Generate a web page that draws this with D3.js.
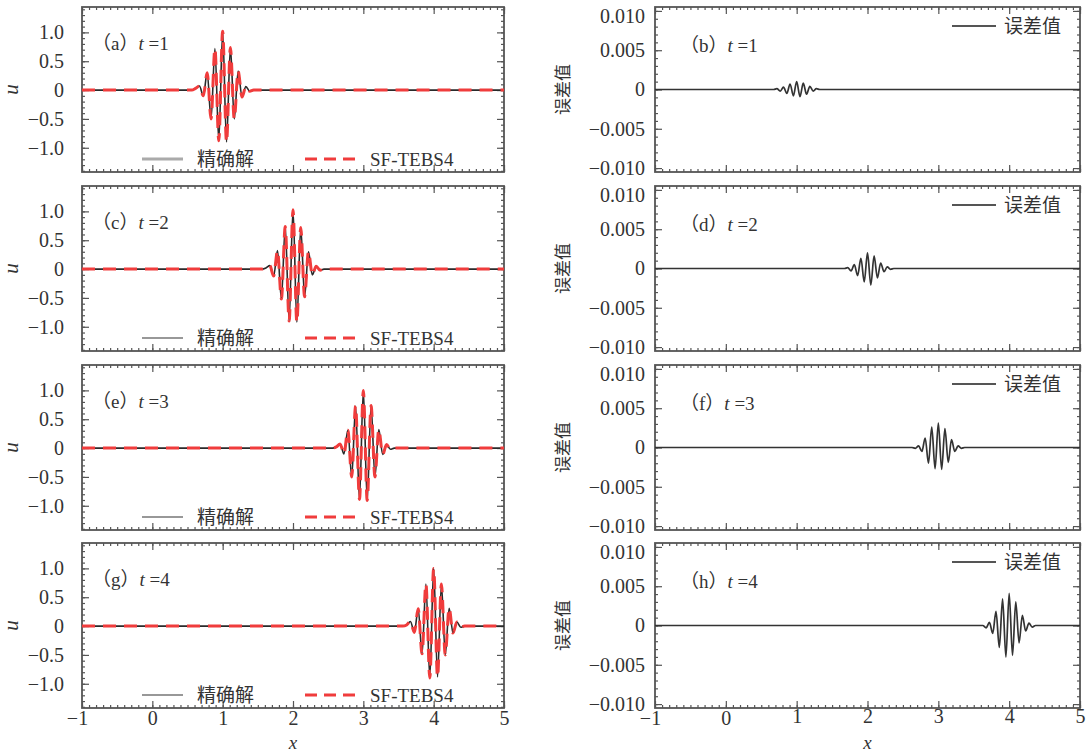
<!DOCTYPE html>
<html>
<head>
<meta charset="utf-8">
<script src="https://cdn.jsdelivr.net/npm/d3@7"></script>
<style>
  body { margin: 0; background: #fff; }
  text { fill: #333; }
</style>
</head>
<body>
<svg id="chart" width="1087" height="753"></svg>
<script>
// ---- data ----
const X_TICKS = [-1, 0, 1, 2, 3, 4, 5];
const U_TICKS = [-1, -0.5, 0, 0.5, 1];
const U_TICK_LABELS = ["−1.0", "−0.5", "0", "0.5", "1.0"];
const ERR_TICKS = [-0.01, -0.005, 0, 0.005, 0.01];
const ERR_TICK_LABELS = ["−0.010", "−0.005", "0", "0.005", "0.010"];
const TIMES = [1, 2, 3, 4];
const LEFT_TAGS = ["a", "c", "e", "g"];
const RIGHT_TAGS = ["b", "d", "f", "h"];

// wave packet extrema (x, u) for the exact solution, one list per t
const packetX1 = [-1, 0.56, 0.615, 0.67, 0.725, 0.78, 0.835, 0.89, 0.945, 1.0, 1.055, 1.11, 1.165, 1.22, 1.275, 1.33, 1.385, 1.44, 5];
const packetU1 = [0, 0, 0.03, 0.07, -0.1, 0.3, -0.5, 0.72, -0.88, 1.02, -0.9, 0.74, -0.5, 0.33, -0.12, 0.06, -0.02, 0, 0];
const packetX2 = [-1, 1.56, 1.615, 1.67, 1.725, 1.78, 1.835, 1.89, 1.945, 2.0, 2.055, 2.11, 2.165, 2.22, 2.275, 2.33, 2.385, 2.44, 5];
const packetU2 = [0, 0, 0.02, 0.06, -0.12, 0.32, -0.52, 0.74, -0.9, 1.03, -0.92, 0.72, -0.48, 0.3, -0.1, 0.05, -0.02, 0, 0];
const packetX3 = [-1, 2.56, 2.615, 2.67, 2.725, 2.78, 2.835, 2.89, 2.945, 3.0, 3.055, 3.11, 3.165, 3.22, 3.275, 3.33, 3.385, 3.44, 5];
const packetU3 = [0, 0, 0.02, 0.07, -0.1, 0.31, -0.5, 0.73, -0.89, 1.0, -0.91, 0.74, -0.5, 0.32, -0.11, 0.06, -0.02, 0, 0];
const packetX4 = [-1, 3.56, 3.615, 3.67, 3.725, 3.78, 3.835, 3.89, 3.945, 4.0, 4.055, 4.11, 4.165, 4.22, 4.275, 4.33, 4.385, 4.44, 5];
const packetU4 = [0, 0, 0.02, 0.08, -0.11, 0.3, -0.48, 0.73, -0.9, 1.0, -0.88, 0.73, -0.5, 0.31, -0.12, 0.07, -0.02, 0, 0];

// error (exact - SF-TEBS4) extrema, one list per t
const errX1 = [-1, 0.628, 0.675, 0.721, 0.768, 0.814, 0.861, 0.907, 0.954, 1.0, 1.047, 1.093, 1.14, 1.186, 1.233, 1.279, 1.326, 1.372, 5];
const errV1 = [0, 0, 0, 0.0001, -0.0002, 0.0003, -0.0005, 0.0007, -0.0008, 0.001, -0.0009, 0.0008, -0.0006, 0.0004, -0.0002, 0.0001, 0, 0, 0];
const errX2 = [-1, 1.628, 1.675, 1.721, 1.768, 1.814, 1.861, 1.907, 1.954, 2.0, 2.047, 2.093, 2.14, 2.186, 2.233, 2.279, 2.326, 2.372, 5];
const errV2 = [0, 0, 0, 0.0001, -0.0003, 0.0005, -0.0009, 0.0013, -0.0017, 0.002, -0.0021, 0.0016, -0.0012, 0.0007, -0.0004, 0.0002, -0.0001, 0, 0];
const errX3 = [-1, 2.628, 2.675, 2.721, 2.768, 2.814, 2.861, 2.907, 2.954, 3.0, 3.047, 3.093, 3.14, 3.186, 3.233, 3.279, 3.326, 3.372, 5];
const errV3 = [0, 0, -0.0001, 0.0002, -0.0005, 0.0012, -0.002, 0.0026, -0.0027, 0.0031, -0.0028, 0.0024, -0.0019, 0.001, -0.0005, 0.0002, -0.0001, 0, 0];
const errX4 = [-1, 3.628, 3.675, 3.721, 3.768, 3.814, 3.861, 3.907, 3.954, 4.0, 4.047, 4.093, 4.14, 4.186, 4.233, 4.279, 4.326, 4.372, 5];
const errV4 = [0, 0, -0.0003, 0.0004, -0.001, 0.0018, -0.0028, 0.0034, -0.004, 0.0041, -0.0038, 0.003, -0.0022, 0.0013, -0.0007, 0.0003, -0.0002, 0, 0];

const PACKETS = [[packetX1, packetU1], [packetX2, packetU2], [packetX3, packetU3], [packetX4, packetU4]];
const ERRORS = [[errX1, errV1], [errX2, errV2], [errX3, errV3], [errX4, errV4]];

// ---- layout ----
const ROW_TOPS = [7, 186, 365, 543];
const ROW_H = 165;
const LEFT = [82, 504];
const RIGHT = [655, 1080];
const SERIF = "'Liberation Serif', 'Times New Roman', serif";
const CJK = "'Noto Sans CJK SC', sans-serif";
const RED = "#f03c3c";

const svg = d3.select("#chart");

const zip = (xs, ys) => xs.map((x, i) => [x, ys[i]]);

function range(a, b, step) {
  const out = [];
  for (let v = a; v <= b + 1e-9; v += step) out.push(+v.toFixed(6));
  return out;
}

function styleAxis(g) {
  g.select(".domain").remove();
  g.selectAll(".tick line").attr("stroke", "#555").attr("stroke-width", 1.2);
  g.selectAll("text").attr("font-family", SERIF).attr("font-size", 20).attr("fill", "#333");
}

function drawFrame(g, x, y, yMajor, yMinor, yFmt, yPad, showX) {
  const [x0, x1] = x.range();
  const [yb, yt] = y.range();

  // minor ticks, all four sides
  g.append("g").attr("transform", `translate(${x0},0)`)
    .call(d3.axisLeft(y).tickValues(yMinor).tickSize(-3).tickFormat(""))
    .call(styleAxis);
  g.append("g").attr("transform", `translate(${x1},0)`)
    .call(d3.axisRight(y).tickValues(yMinor).tickSize(-3).tickFormat(""))
    .call(styleAxis);
  const xMinor = range(-1, 5, 0.1);
  g.append("g").attr("transform", `translate(0,${yt})`)
    .call(d3.axisTop(x).tickValues(xMinor).tickSize(-3).tickFormat(""))
    .call(styleAxis);
  g.append("g").attr("transform", `translate(0,${yb})`)
    .call(d3.axisBottom(x).tickValues(xMinor).tickSize(-3).tickFormat(""))
    .call(styleAxis);

  // major ticks
  g.append("g").attr("transform", `translate(${x0},0)`)
    .call(d3.axisLeft(y).tickValues(yMajor).tickSize(-7).tickPadding(yPad).tickFormat(yFmt))
    .call(styleAxis);
  g.append("g").attr("transform", `translate(${x1},0)`)
    .call(d3.axisRight(y).tickValues(yMajor).tickSize(-7).tickFormat(""))
    .call(styleAxis);
  g.append("g").attr("transform", `translate(0,${yt})`)
    .call(d3.axisTop(x).tickValues(X_TICKS).tickSize(-7).tickFormat(""))
    .call(styleAxis);
  const bottom = g.append("g").attr("transform", `translate(0,${yb})`)
    .call(d3.axisBottom(x).tickValues(X_TICKS).tickSize(-7).tickPadding(3)
      .tickFormat(showX ? (d) => (d < 0 ? "−" + Math.abs(d) : String(d)) : ""))
    .call(styleAxis);
  bottom.selectAll("text").attr("dx", (d) => (d < 0 ? -5 : 0));

  g.append("rect")
    .attr("x", x0).attr("y", yt)
    .attr("width", x1 - x0).attr("height", yb - yt)
    .attr("fill", "none").attr("stroke", "#555").attr("stroke-width", 1.8);
}

function panelTag(g, xPos, yPos, tag, t) {
  const txt = g.append("text").attr("x", xPos).attr("y", yPos)
    .attr("font-family", SERIF).attr("font-size", 19);
  txt.append("tspan").attr("font-family", CJK).text("（");
  txt.append("tspan").text(tag);
  txt.append("tspan").attr("font-family", CJK).text("）");
  txt.append("tspan").attr("font-style", "italic").text("t");
  txt.append("tspan").text(" =" + t);
}

TIMES.forEach((t, i) => {
  const top = ROW_TOPS[i];
  const last = i === TIMES.length - 1;

  // ---------- left: u(x) ----------
  const xl = d3.scaleLinear().domain([-1, 5]).range(LEFT);
  const yl = d3.scaleLinear().domain([-1.42, 1.44]).range([top + ROW_H, top]);
  const gl = svg.append("g");

  const clipL = `clipL${i}`;
  svg.append("clipPath").attr("id", clipL).append("rect")
    .attr("x", LEFT[0]).attr("y", top).attr("width", LEFT[1] - LEFT[0]).attr("height", ROW_H);

  drawFrame(gl, xl, yl, U_TICKS, range(-1.4, 1.4, 0.1),
    (d) => U_TICK_LABELS[U_TICKS.indexOf(d)], 18, last);

  const pts = zip(PACKETS[i][0], PACKETS[i][1]);
  const lineL = d3.line().x((d) => xl(d[0])).y((d) => yl(d[1])).curve(d3.curveMonotoneX);

  const plotL = gl.append("g").attr("clip-path", `url(#${clipL})`);
  plotL.append("path").datum(pts).attr("d", lineL)
    .attr("fill", "none").attr("stroke", "#2a2a2a").attr("stroke-width", 1.6);
  // SF-TEBS4 numerical solution coincides with the exact one at this scale
  plotL.append("path").datum(pts).attr("d", lineL)
    .attr("fill", "none").attr("stroke", RED).attr("stroke-width", 3)
    .attr("stroke-dasharray", "13,8");

  panelTag(gl, 92, top + 43, LEFT_TAGS[i], t);

  // legend
  const ly = top + ROW_H - 13;
  gl.append("line").attr("x1", 142).attr("x2", 183).attr("y1", ly).attr("y2", ly)
    .attr("stroke", i === 0 ? "#aaa" : "#333").attr("stroke-width", i === 0 ? 3 : 1.2);
  gl.append("text").attr("x", 197).attr("y", ly + 7)
    .attr("font-family", CJK).attr("font-size", 19).text("精确解");
  gl.append("line").attr("x1", 305).attr("x2", 357).attr("y1", ly).attr("y2", ly)
    .attr("stroke", RED).attr("stroke-width", 3).attr("stroke-dasharray", "12,7");
  gl.append("text").attr("x", 370).attr("y", ly + 7)
    .attr("font-family", SERIF).attr("font-size", 19).text("SF-TEBS4");

  gl.append("text")
    .attr("transform", `translate(18,${top + ROW_H / 2}) rotate(-90)`)
    .attr("text-anchor", "middle")
    .attr("font-family", SERIF).attr("font-style", "italic").attr("font-size", 21)
    .text("u");

  // ---------- right: error ----------
  const xr = d3.scaleLinear().domain([-1, 5]).range(RIGHT);
  const yr = d3.scaleLinear().domain([-0.0105, 0.0105]).range([top + ROW_H, top]);
  const gr = svg.append("g");

  const clipR = `clipR${i}`;
  svg.append("clipPath").attr("id", clipR).append("rect")
    .attr("x", RIGHT[0]).attr("y", top).attr("width", RIGHT[1] - RIGHT[0]).attr("height", ROW_H);

  drawFrame(gr, xr, yr, ERR_TICKS, range(-0.01, 0.01, 0.001),
    (d) => ERR_TICK_LABELS[ERR_TICKS.indexOf(d)], 10, last);
  gr.selectAll("g.tick text")
    .filter((d) => d > 0.009)
    .attr("dy", "0.6em");

  const errPts = zip(ERRORS[i][0], ERRORS[i][1]);
  const lineR = d3.line().x((d) => xr(d[0])).y((d) => yr(d[1])).curve(d3.curveMonotoneX);
  gr.append("g").attr("clip-path", `url(#${clipR})`)
    .append("path").datum(errPts).attr("d", lineR)
    .attr("fill", "none").attr("stroke", "#333").attr("stroke-width", 1.7);

  panelTag(gr, 680, top + 45, RIGHT_TAGS[i], t);

  const ry = top + 19;
  gr.append("line").attr("x1", 952).attr("x2", 996).attr("y1", ry).attr("y2", ry)
    .attr("stroke", "#555").attr("stroke-width", 2);
  gr.append("text").attr("x", 1004).attr("y", ry + 7)
    .attr("font-family", CJK).attr("font-size", 19).text("误差值");

  gr.append("text")
    .attr("transform", `translate(569,${top + ROW_H / 2}) rotate(-90)`)
    .attr("text-anchor", "middle")
    .attr("font-family", CJK).attr("font-size", 17)
    .text("误差值");
});

// x-axis titles
svg.append("text").attr("x", (LEFT[0] + LEFT[1]) / 2).attr("y", 749)
  .attr("text-anchor", "middle").attr("font-family", SERIF)
  .attr("font-style", "italic").attr("font-size", 19).text("x");
svg.append("text").attr("x", (RIGHT[0] + RIGHT[1]) / 2).attr("y", 749)
  .attr("text-anchor", "middle").attr("font-family", SERIF)
  .attr("font-style", "italic").attr("font-size", 19).text("x");
</script>
</body>
</html>
